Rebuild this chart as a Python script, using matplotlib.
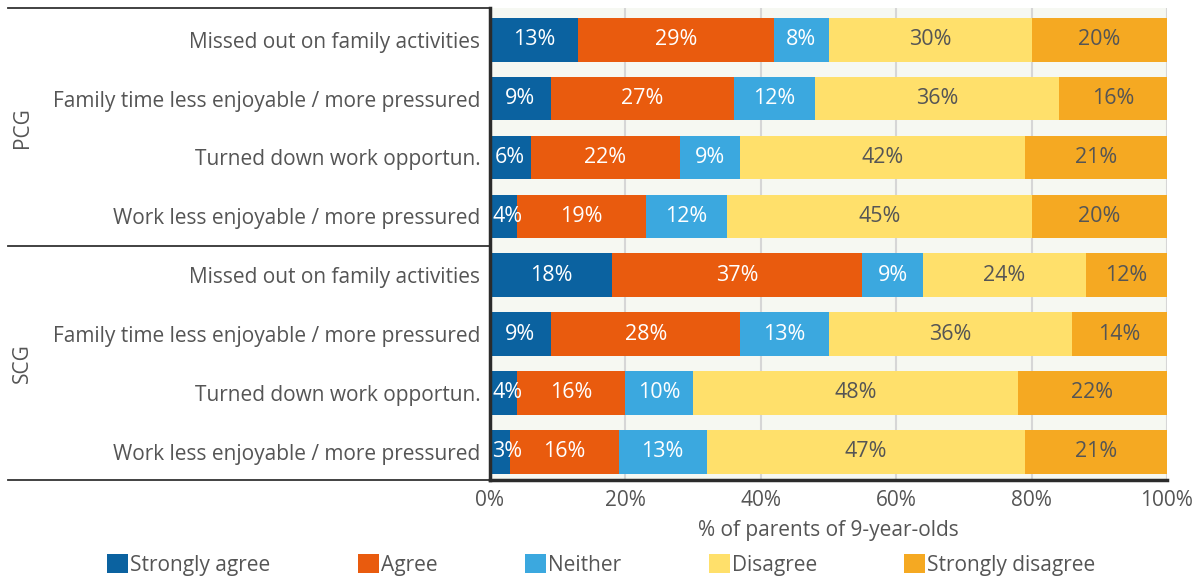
import matplotlib.pyplot as plt
import numpy as np
from matplotlib.patches import Patch
from matplotlib.transforms import blended_transform_factory

items = [
    "Missed out on family activities",
    "Family time less enjoyable / more pressured",
    "Turned down work opportun.",
    "Work less enjoyable / more pressured",
]
groups = ["PCG", "SCG"]
categories = ["Strongly agree", "Agree", "Neither", "Disagree", "Strongly disagree"]

# rows: PCG x4 then SCG x4
strongly_agree = [13, 9, 6, 4, 18, 9, 4, 3]
agree = [29, 27, 22, 19, 37, 28, 16, 16]
neither = [8, 12, 9, 12, 9, 13, 10, 13]
disagree = [30, 36, 42, 45, 24, 36, 48, 47]
strongly_disagree = [20, 16, 21, 20, 12, 14, 22, 21]

colors = ["#0b62a0", "#e95b0e", "#3ba8df", "#ffe06b", "#f5a922"]
label_colors = ["white", "white", "white", "#555555", "#555555"]
text_grey = "#555555"

plt.rcParams['font.family'] = ['Open Sans', 'DejaVu Sans']

fig = plt.figure(figsize=(12.03, 5.79), dpi=100)
ax = fig.add_axes([490 / 1203, 1 - 480 / 579, 677 / 1203, 472 / 579])
ax.set_facecolor("#f6f8f2")

series = [strongly_agree, agree, neither, disagree, strongly_disagree]
y = np.arange(len(strongly_agree))
left = np.zeros(len(y))
for vals, col, lc in zip(series, colors, label_colors):
    vals = np.array(vals, dtype=float)
    ax.barh(y, vals, left=left, height=0.74, color=col, zorder=2)
    for yi, l, v in zip(y, left, vals):
        txt = f"{int(v)}%"
        if v < 5:
            ax.text(l + 0.3, yi, txt, ha="left", va="center", color=lc,
                    fontsize=15.5, zorder=3)
        else:
            ax.text(l + v / 2, yi, txt, ha="center", va="center", color=lc,
                    fontsize=15.5, zorder=3)
    left += vals

ax.set_xlim(0, 100)
ax.set_ylim(7.48, -0.54)
ax.set_xticks([0, 20, 40, 60, 80, 100])
ax.set_xticklabels([f"{v}%" for v in [0, 20, 40, 60, 80, 100]])
ax.set_yticks(y)
ax.set_yticklabels(items * 2)
ax.tick_params(axis="both", length=0, labelsize=15, colors=text_grey, pad=7)
ax.tick_params(axis="y", pad=7)
ax.xaxis.grid(True, color="#d6d6d6", linewidth=1.5, zorder=0)
ax.set_axisbelow(True)
for s in ["top", "right"]:
    ax.spines[s].set_visible(False)
for s in ["left", "bottom"]:
    ax.spines[s].set_color("#2b2b2b")
    ax.spines[s].set_linewidth(2.5)
ax.set_xlabel("% of parents of 9-year-olds", fontsize=15, color=text_grey, labelpad=7)

# group separators and group labels
trans = blended_transform_factory(ax.transAxes, ax.transData)
x0 = (8 - 490) / 677
for yy in [-0.54, 3.5, 7.48]:
    ax.plot([x0, 0], [yy, yy], transform=trans, color="#333333",
            linewidth=1.3, clip_on=False)
for gi, g in enumerate(groups):
    ax.text((22 - 490) / 677, 1.5 + 4 * gi, g, transform=trans, rotation=90,
            ha="center", va="center", fontsize=15, color=text_grey)

handles = [Patch(facecolor=c, edgecolor="none") for c in colors]
fig.legend(handles, categories, loc="center", bbox_to_anchor=(0.5, 1 - 565 / 579),
           ncol=5, frameon=False, fontsize=15, labelcolor=text_grey,
           handlelength=1.0, handleheight=1.0, handletextpad=0.1,
           columnspacing=4.2)

fig.savefig("out.png", dpi=100)
